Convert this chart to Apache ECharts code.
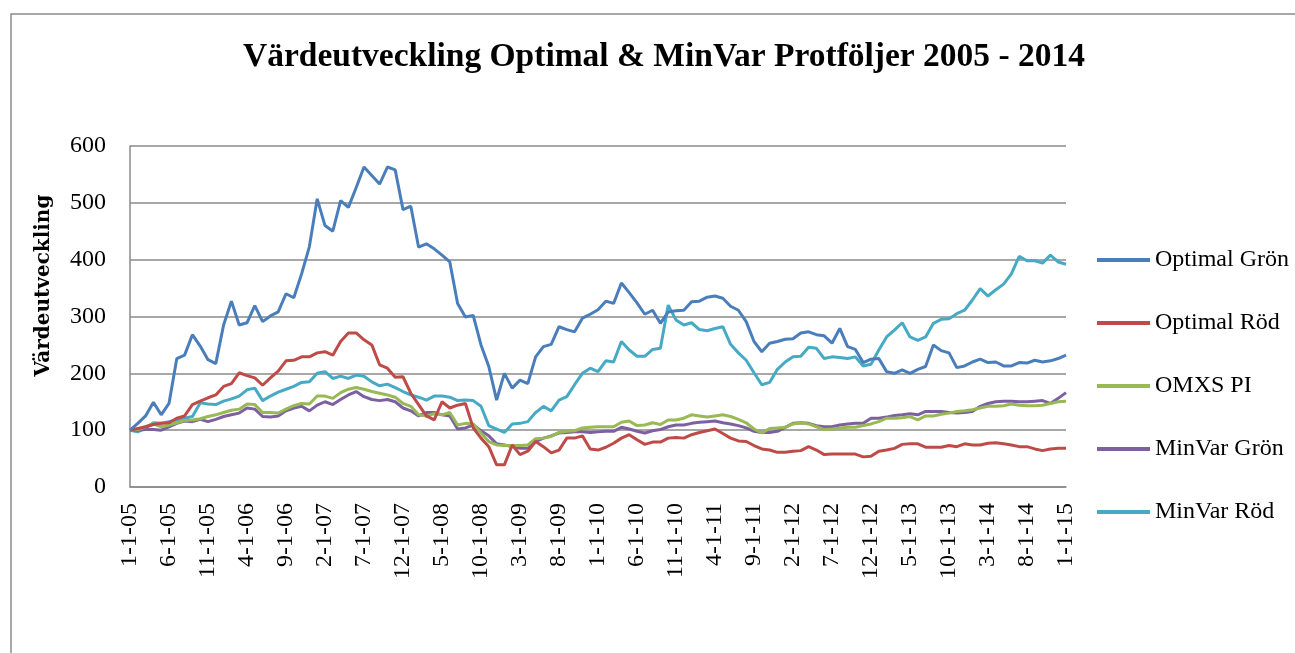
<!DOCTYPE html>
<html>
<head>
<meta charset="utf-8">
<title>Värdeutveckling</title>
<script src="https://cdn.jsdelivr.net/npm/echarts@6.0.0/dist/echarts.min.js"></script>
<style>
  html, body { margin: 0; padding: 0; background: #fff; }
  #chart { width: 1295px; height: 653px; }
</style>
</head>
<body>
<div id="chart"></div>
<script>
// månadsdata 1-1-05 .. 1-1-15 (121 punkter)
var startYear = 2005;
var monthCount = 121;

var optimalGron = [
  100,112,125,149,127,147,226,232,268,248,
  224,217,285,327,285,289,319,291,301,308,
  340,333,375,423,507,460,450,504,492,527,
  563,548,533,563,558,488,494,422,428,419,
  408,396,323,299,302,250,212,153,200,174,
  188,182,229,247,251,282,277,273,297,304,
  312,327,323,359,342,324,304,311,288,308,
  310,311,326,327,334,336,332,318,311,291,
  256,238,253,256,260,261,271,273,268,266,
  253,279,247,242,219,225,226,203,200,206,
  200,207,212,250,240,236,210,213,220,225,
  219,220,213,213,219,218,223,220,222,226,
  232
];
var optimalRod = [
  100,103,106,110,112,113,121,125,145,151,
  157,162,177,182,201,196,192,179,192,204,
  222,223,229,229,236,238,232,256,271,271,
  259,250,215,209,193,194,165,145,125,118,
  150,139,144,147,104,86,71,39,39,74,
  57,63,80,71,60,65,86,86,90,67,
  65,70,77,86,92,83,75,79,79,86,
  87,86,92,96,99,102,94,86,81,80,
  73,67,65,61,61,63,64,71,65,57,
  58,58,58,58,53,54,63,65,68,75,
  76,76,70,70,70,73,71,76,74,74,
  77,78,76,74,71,71,67,64,67,68,
  68
];
var omxsPi = [
  100,101,106,111,106,109,113,117,118,120,
  124,127,131,135,137,146,145,131,131,130,
  137,143,147,146,160,160,156,166,172,175,
  172,168,165,162,158,147,142,127,125,129,
  127,131,109,112,111,95,80,74,73,73,
  73,74,85,86,89,96,98,99,104,105,
  106,106,106,114,116,108,109,113,110,118,
  118,121,127,125,123,125,127,124,119,113,
  102,95,103,104,105,111,113,111,106,101,
  102,104,105,105,108,111,115,121,121,122,
  124,118,125,125,128,130,133,134,136,139,
  142,142,143,146,144,143,143,144,147,150,
  151
];
var minVarGron = [
  100,100,101,101,100,106,112,116,115,119,
  115,119,124,127,130,139,137,124,123,125,
  134,139,142,134,144,150,145,154,162,168,
  159,154,152,154,150,139,134,125,131,131,
  127,125,102,104,109,99,90,76,74,71,
  68,68,80,86,90,95,96,97,97,96,
  97,98,98,105,102,98,95,99,101,106,
  109,109,112,114,115,116,113,111,108,104,
  98,96,96,98,105,112,113,112,108,106,
  106,109,111,112,112,121,121,123,126,127,
  129,127,133,133,133,131,130,131,133,142,
  147,150,151,151,150,150,151,152,147,156,
  166
];
var minVarRod = [
  100,97,104,113,112,115,118,121,124,148,
  146,145,151,155,160,171,174,152,160,167,
  172,177,184,185,200,203,191,195,191,197,
  195,185,178,181,175,168,162,158,153,160,
  160,158,152,153,152,142,108,102,96,111,
  112,115,131,142,134,153,159,180,200,209,
  203,222,220,256,241,230,230,242,244,320,
  294,285,289,277,275,279,282,251,236,223,
  201,180,184,207,220,229,230,246,244,226,
  229,228,226,229,213,216,241,264,276,289,
  264,258,264,288,295,296,305,311,329,349,
  336,347,357,375,406,398,398,394,408,396,
  392
];

var seriesNames = ['Optimal Grön', 'Optimal Röd', 'OMXS PI', 'MinVar Grön', 'MinVar Röd'];
var seriesColors = ['#4a7ebb', '#be4b48', '#98b954', '#7d60a0', '#46aac5'];
var yTicks = [0, 100, 200, 300, 400, 500, 600];

// kategorier: M-1-YY
var months = [];
for (var i = 0; i < monthCount; i++) {
  var m = i % 12 + 1;
  var y = (startYear + Math.floor(i / 12)) % 100;
  months.push(m + '-1-' + (y < 10 ? '0' + y : y));
}

var serif = '"Liberation Serif", "DejaVu Serif", serif';
var allData = [optimalGron, optimalRod, omxsPi, minVarGron, minVarRod];

function buildSeries() {
  var list = [];
  for (var k = 0; k < seriesNames.length; k++) {
    list.push({
      name: seriesNames[k],
      type: 'line',
      data: allData[k],
      symbol: 'none',
      smooth: false,
      lineStyle: { color: seriesColors[k], width: 3 },
      itemStyle: { color: seriesColors[k] },
      z: 10 - k
    });
  }
  return list;
}

var chart = echarts.init(document.getElementById('chart'));
var option = {
  backgroundColor: '#ffffff',
  animation: false,
  graphic: [{
    type: 'rect',
    shape: { x: 11, y: 14, width: 1300, height: 700 },
    style: { fill: 'none', stroke: '#8a8a8a', lineWidth: 1.5 },
    silent: true
  }],
  title: {
    text: 'Värdeutveckling Optimal & MinVar Protföljer 2005 - 2014',
    left: 659,
    textAlign: 'center',
    top: 35,
    textStyle: {
      fontFamily: serif,
      fontWeight: 'bold',
      fontSize: 33.5,
      color: '#000'
    }
  },
  legend: {
    orient: 'vertical',
    left: 1097,
    top: 246,
    padding: 0,
    icon: 'rect',
    itemWidth: 53,
    itemHeight: 4,
    itemGap: 35,
    data: seriesNames,
    textStyle: {
      fontFamily: serif,
      fontSize: 24,
      lineHeight: 28,
      color: '#000'
    }
  },
  grid: {
    left: 130,
    right: 229,
    top: 146,
    bottom: 166,
    containLabel: false
  },
  xAxis: {
    type: 'category',
    boundaryGap: false,
    data: months,
    axisLine: { lineStyle: { color: '#8a8a8a', width: 1.5 } },
    axisTick: { show: false },
    axisLabel: {
      interval: 4,
      rotate: 90,
      margin: 16,
      fontFamily: serif,
      fontSize: 24,
      color: '#000'
    },
    splitLine: { show: false }
  },
  yAxis: {
    type: 'value',
    min: yTicks[0],
    max: yTicks[yTicks.length - 1],
    interval: 100,
    name: 'Värdeutveckling',
    nameLocation: 'middle',
    nameRotate: 90,
    nameGap: 76,
    nameTextStyle: {
      fontFamily: '"DejaVu Serif", serif',
      fontWeight: 'bold',
      fontSize: 20,
      color: '#000',
      padding: [0, 0, 0, 62]
    },
    axisLine: { show: true, lineStyle: { color: '#8a8a8a', width: 1.5 } },
    axisTick: { show: false },
    axisLabel: {
      margin: 24,
      fontFamily: serif,
      fontSize: 24,
      color: '#000'
    },
    splitLine: { lineStyle: { color: '#8a8a8a', width: 1.5 } }
  },
  series: buildSeries()
};
chart.setOption(option);
</script>
</body>
</html>
